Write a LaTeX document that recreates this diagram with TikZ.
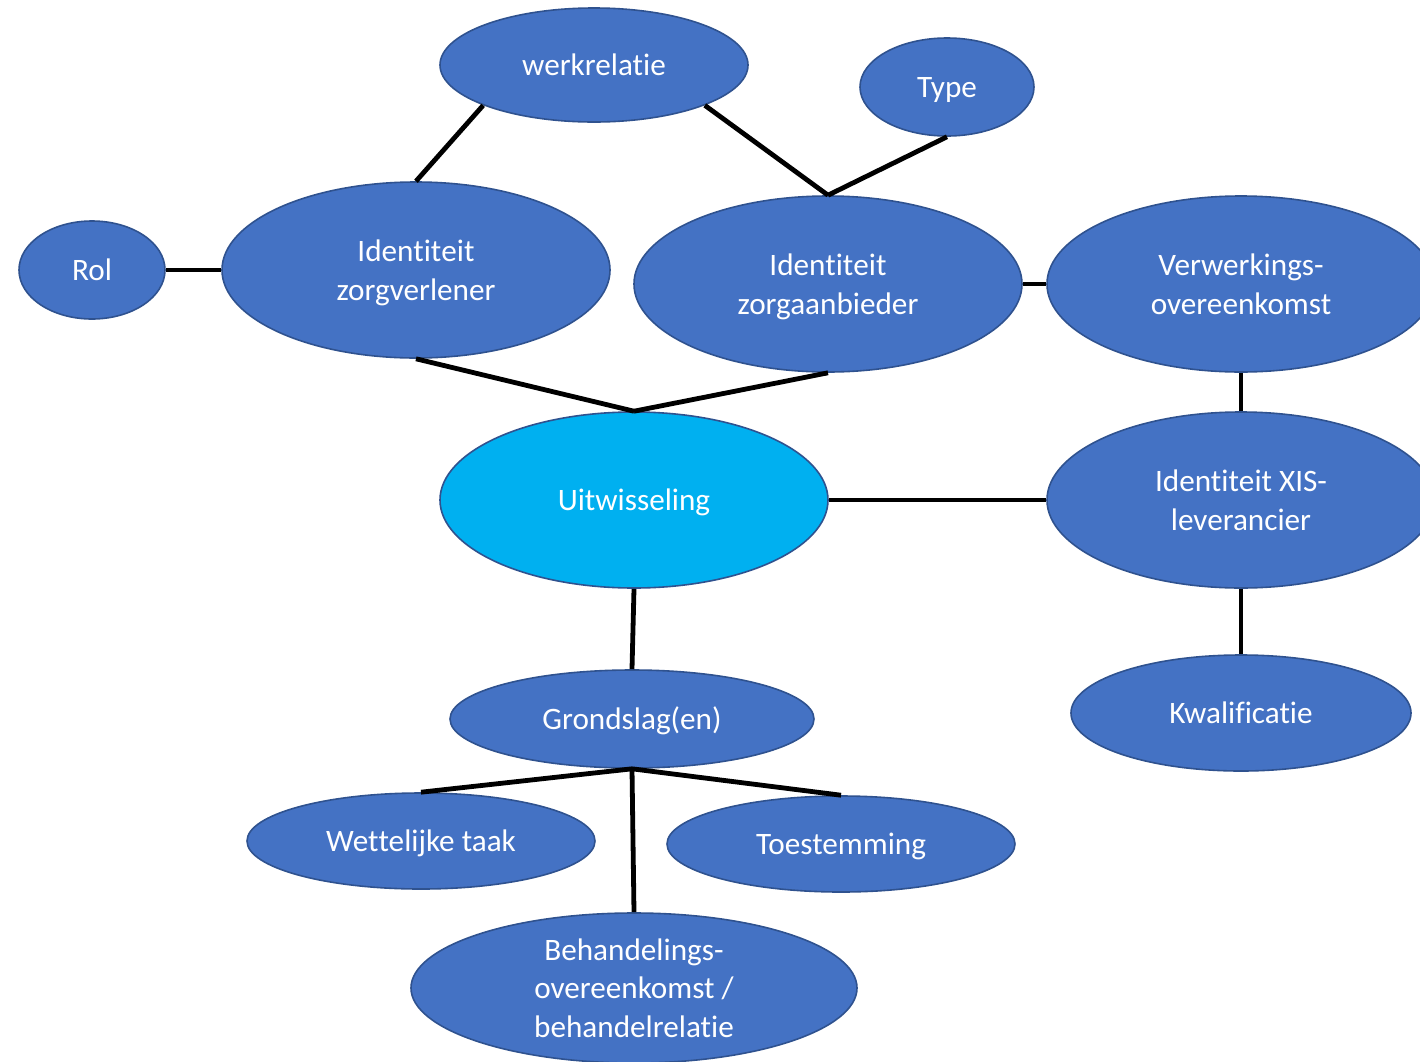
\documentclass[tikz,border=0pt]{standalone}
\usepackage{fontspec}
\setmainfont{Carlito}[Ligatures={NoCommon,NoRequired,NoContextual,NoRare}]
\usetikzlibrary{shapes.geometric}
\definecolor{nodeblue}{HTML}{4472C4}
\definecolor{edgeblue}{HTML}{2F528F}
\definecolor{lightblue}{HTML}{00B0F0}
\newcommand{\btext}[2][0pt]{\raisebox{-1.6pt}[\dimexpr\height-#1\relax][\dimexpr\depth-#1\relax]{\begin{tabular}{@{}c@{}}#2\end{tabular}}}
\newcommand{\nolig}{\kern0pt}
\tikzset{
  bubble/.style={ellipse, draw=edgeblue, line width=0.8pt, fill=nodeblue, text=white,
    inner sep=0pt, font=\fontsize{15.6pt}{19.25pt}\selectfont},
  link/.style={line width=2.4pt, black}
}
\begin{document}
\begin{tikzpicture}[x=0.5pt,y=-0.5pt]
\useasboundingbox (0,0) rectangle (1420,1061);
\clip (0,0) rectangle (1420,1061);
\node[bubble, minimum width=154pt, minimum height=57pt] (wr) at (594,65) {\btext{werkrelat\nolig ie}};
\node[bubble, minimum width=87pt, minimum height=49pt] (ty) at (947,87) {\btext{Type}};
\node[bubble, minimum width=73pt, minimum height=49pt] (rol) at (92,270) {\btext{Rol}};
\node[bubble, minimum width=194pt, minimum height=88pt] (zv) at (416,270) {\btext{Ident\nolig it\nolig eit\\zorgverlener}};
\node[bubble, minimum width=194pt, minimum height=88pt] (za) at (828,284) {\btext{Ident\nolig it\nolig eit\\zorgaanbieder}};
\node[bubble, minimum width=194pt, minimum height=88pt] (vo) at (1241,284) {\btext{Verwerkings-\\overeenkomst}};
\node[bubble, fill=lightblue, minimum width=194pt, minimum height=88pt] (uit) at (634,500) {\btext{Uitwisseling}};
\node[bubble, minimum width=194pt, minimum height=88pt] (xis) at (1241,500) {\btext{Ident\nolig it\nolig eit XIS-\\leverancier}};
\node[bubble, minimum width=170pt, minimum height=58pt] (kw) at (1241,713) {\btext{Kwalif\nolig icat\nolig ie}};
\node[bubble, minimum width=182pt, minimum height=49pt] (gr) at (632,719) {\btext{Grondslag(en)}};
\node[bubble, minimum width=174pt, minimum height=48pt] (wt) at (421,841) {\btext{Wet\nolig telijke taak}};
\node[bubble, minimum width=174pt, minimum height=48pt] (ts) at (841,844) {\btext{Toestemming}};
\node[bubble, minimum width=223pt, minimum height=75pt] (bh) at (634,988) {\btext[8pt]{Behandelings-\\overeenkomst /\\behandelrelat\nolig ie}};

\draw[link] (wr.200) -- (zv.north);
\draw[link] (wr.340) -- (za.north);
\draw[link] (ty.south) -- (za.north);
\draw[link] (rol.east) -- (zv.west);
\draw[link] (zv.south) -- (uit.north);
\draw[link] (za.south) -- (uit.north);
\draw[link] (za.east) -- (vo.west);
\draw[link] (vo.south) -- (xis.north);
\draw[link] (uit.east) -- (xis.west);
\draw[link] (xis.south) -- (kw.north);
\draw[link] (uit.south) -- (gr.north);
\draw[link] (gr.south) -- (wt.north);
\draw[link] (gr.south) -- (ts.north);
\draw[link] (gr.south) -- (bh.north);
\end{tikzpicture}
\end{document}
